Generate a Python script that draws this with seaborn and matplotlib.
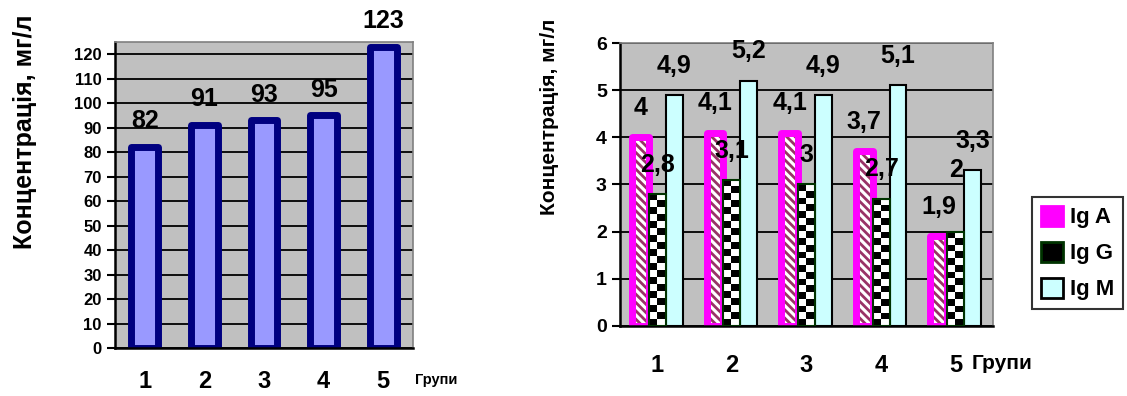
import numpy as np
import pandas as pd
import matplotlib
matplotlib.use("Agg")
import matplotlib.pyplot as plt
from matplotlib.patches import Rectangle, Patch
import seaborn as sns

# data
groups = ["1", "2", "3", "4", "5"]
total_conc = [82, 91, 93, 95, 123]
ig_names = ["Ig A", "Ig G", "Ig M"]
ig_a = [4.0, 4.1, 4.1, 3.7, 1.9]
ig_g = [2.8, 3.1, 3.0, 2.7, 2.0]
ig_m = [4.9, 5.2, 4.9, 5.1, 3.3]
left_yticks = list(range(0, 121, 10))
right_yticks = list(range(0, 7))

sns.set_style("white")
plt.rcParams["font.family"] = ["Liberation Sans", "DejaVu Sans"]
plt.rcParams["font.weight"] = "bold"
plt.rcParams["text.color"] = "black"
plt.rcParams["xtick.color"] = "black"
plt.rcParams["ytick.color"] = "black"
plt.rcParams["hatch.linewidth"] = 2.0

fig = plt.figure(figsize=(11.27, 3.96), dpi=100)
ax1 = fig.add_axes([0.102, 0.1212, 0.2644, 0.773])
ax2 = fig.add_axes([0.5501, 0.1768, 0.331, 0.7146])

grey_bg = "#C0C0C0"


def style_axes(ax, yticks, ylim, label_size, xpad):
    ax.set_facecolor(grey_bg)
    ax.set_axisbelow(True)
    ax.yaxis.grid(True, color="black", lw=1.3)
    ax.set_ylim(*ylim)
    ax.set_xlim(-0.5, len(groups) - 0.5)
    ax.set_yticks(yticks)
    ax.set_xticks(range(len(groups)))
    ax.set_xticklabels(groups)
    ax.set_xticks(np.arange(-0.5, len(groups)), minor=True)
    ax.tick_params(axis="x", which="major", length=0, pad=xpad, labelsize=17)
    ax.tick_params(axis="x", which="minor", length=7, width=1.8, color="black", direction="out")
    ax.tick_params(axis="y", length=6, width=1.5, color="black", direction="out",
                   labelsize=label_size, left=True)
    for lbl in ax.get_xticklabels() + ax.get_yticklabels():
        lbl.set_fontweight("bold")
    for s in ("left", "bottom"):
        ax.spines[s].set_color("black")
        ax.spines[s].set_linewidth(1.8)
    for s in ("top", "right"):
        ax.spines[s].set_color("#808080")
        ax.spines[s].set_linewidth(1.2)
    ax.set_xlabel("")
    ax.set_ylabel("")


# left chart
left_df = pd.DataFrame({"group": groups, "conc": total_conc})
sns.barplot(data=left_df, x="group", y="conc", color="#9999FF", saturation=1,
            edgecolor="#000080", linewidth=5, width=0.45, ax=ax1)
for bar in ax1.patches:
    bar.set_joinstyle("round")
style_axes(ax1, left_yticks, (0, 125), 12, 16)
for i, v in enumerate(total_conc):
    ax1.text(i, v + 10.5, str(v), ha="center", va="center", fontsize=18,
             fontweight="bold", clip_on=False)

# right chart
right_df = pd.DataFrame({
    "group": groups * 3,
    "ig": sum([[n] * len(groups) for n in ig_names], []),
    "value": ig_a + ig_g + ig_m,
})
sns.barplot(data=right_df, x="group", y="value", hue="ig", width=0.68,
            saturation=1, legend=False, ax=ax2)

# Ig A: striped fill with thick magenta border
for bar in ax2.containers[0]:
    bar.set_facecolor("white")
    bar.set_hatch("\\\\\\\\")
    bar.set_edgecolor("#993366")
    bar.set_linewidth(0)
    bar.set_zorder(2)
    ax2.add_patch(Rectangle(bar.get_xy(), bar.get_width(), bar.get_height(), fill=False,
                            edgecolor="#FF00FF", lw=5, joinstyle="round", zorder=2.2))

# Ig G: checkerboard fill
for bar in ax2.containers[1]:
    x, w, h = bar.get_x(), bar.get_width(), bar.get_height()
    rows = max(int(round(h / 0.145)), 1)
    checker = np.indices((rows, 2)).sum(axis=0) % 2
    ax2.imshow(checker, cmap="gray", extent=(x, x + w, 0, h), aspect="auto",
               interpolation="nearest", zorder=3)
    bar.set_facecolor("none")
    bar.set_edgecolor("#003300")
    bar.set_linewidth(1.5)
    bar.set_zorder(3.2)

# Ig M
for bar in ax2.containers[2]:
    bar.set_facecolor("#CCFFFF")
    bar.set_edgecolor("black")
    bar.set_linewidth(1.5)
    bar.set_zorder(3)

style_axes(ax2, right_yticks, (0, 6), 14, 20)

for k, cont in enumerate(ax2.containers):
    vals = [ig_a, ig_g, ig_m][k]
    for j, (bar, v) in enumerate(zip(cont, vals)):
        y = v + 0.62
        if k == 1 and j == 4:
            y = 3.3
        ax2.text(bar.get_x() + bar.get_width() / 2, y, f"{v:g}".replace(".", ","),
                 ha="center", va="center", fontsize=18, fontweight="bold", zorder=5)

# axis titles
fig.text(0.022, 0.667, "Концентрація, мг/л", rotation=90, ha="center", va="center",
         fontsize=18, fontweight="bold")
fig.text(0.488, 0.705, "Концентрація, мг/л", rotation=90, ha="center", va="center",
         fontsize=15, fontweight="bold")
fig.text(0.368, 0.04, "Групи", ha="left", va="center", fontsize=10.5, fontweight="bold")
fig.text(0.8625, 0.083, "Групи", ha="left", va="center", fontsize=15, fontweight="bold")

handles = [
    Patch(facecolor="#FF00FF", edgecolor="#FF00FF", lw=2),
    Patch(facecolor="black", edgecolor="#003300", lw=2),
    Patch(facecolor="#CCFFFF", edgecolor="black", lw=2),
]
leg = fig.legend(handles, ig_names, loc="upper left", bbox_to_anchor=(0.9157, 0.5025),
                 frameon=True, fancybox=False, borderaxespad=0, borderpad=0.4,
                 handlelength=1.0, handleheight=1.0, handletextpad=0.3, labelspacing=0.6,
                 prop={"size": 16, "weight": "bold"})
leg.get_frame().set_edgecolor("black")
leg.get_frame().set_linewidth(1.5)

fig.savefig("out.png", dpi=100)
